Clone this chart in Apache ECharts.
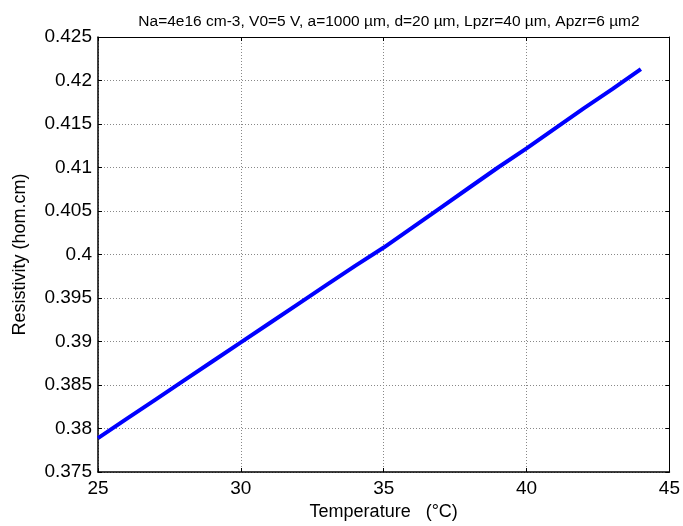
<!DOCTYPE html>
<html>
<head>
<meta charset="utf-8">
<script src="https://cdn.jsdelivr.net/npm/echarts@6/dist/echarts.min.js"></script>
<style>
  html, body { margin: 0; padding: 0; background: #fff; }
  #chart { width: 683px; height: 526px; }
</style>
</head>
<body>
<div id="chart"></div>
<script>
// temperature (°C) and resistivity
var temps = [25, 26, 27, 28, 29, 30, 31, 32, 33, 34, 35, 36, 37, 38, 39, 40, 41, 42, 43, 44];
var resistivity = [0.3789, 0.3811, 0.3833, 0.3855, 0.3877, 0.3899, 0.3921, 0.3943, 0.3965, 0.3987,
                   0.4008, 0.4031, 0.4054, 0.4077, 0.4100, 0.4122, 0.4145, 0.4168, 0.4190, 0.4213];
var titleText = 'Na=4e16 cm-3, V0=5 V, a=1000 µm, d=20 µm, Lpzr=40 µm, Apzr=6 µm2';

var font = 'Liberation Sans, Arial, sans-serif';
var data = temps.map(function (t, i) { return [t, resistivity[i]]; });

var gridLine = { show: true, lineStyle: { color: '#888', type: [1, 2], width: 1 } };
var tickIn = { show: true, inside: true, length: 4, lineStyle: { color: '#000' } };

var chart = echarts.init(document.getElementById('chart'));
chart.setOption({
    animation: false,
    title: {
        text: titleText,
        left: 384,
        textAlign: 'center',
        top: 9,
        textStyle: { fontFamily: font, fontSize: 15.5, fontWeight: 'normal', color: '#000' }
    },
    grid: { left: 98, right: 13, top: 37, bottom: 54, show: false },
    xAxis: [{
        type: 'value', min: 25, max: 45, interval: 5,
        name: 'Temperature   (°C)', nameLocation: 'middle', nameGap: 30,
        nameTextStyle: { fontFamily: font, fontSize: 18, color: '#000' },
        axisLine: { show: true, lineStyle: { color: '#000', width: 1.5 } },
        axisTick: tickIn,
        axisLabel: { fontFamily: font, fontSize: 19, color: '#000', margin: 7 },
        splitLine: gridLine
    }, {
        type: 'value', min: 25, max: 45, interval: 5, position: 'top',
        axisLine: { show: true, lineStyle: { color: '#000', width: 1 } },
        axisTick: tickIn, axisLabel: { show: false }, splitLine: { show: false }
    }],
    yAxis: [{
        type: 'value', min: 0.375, max: 0.425, interval: 0.005,
        name: 'Resistivity (hom.cm)', nameLocation: 'middle', nameGap: 69,
        nameTextStyle: { fontFamily: font, fontSize: 18, color: '#000' },
        axisLine: { show: true, lineStyle: { color: '#000', width: 1.5 } },
        axisTick: tickIn,
        axisLabel: {
            fontFamily: font, fontSize: 19, color: '#000', margin: 6,
            formatter: function (v) { return String(parseFloat(v.toFixed(3))); }
        },
        splitLine: gridLine
    }, {
        type: 'value', min: 0.375, max: 0.425, interval: 0.005, position: 'right',
        axisLine: { show: true, lineStyle: { color: '#000', width: 1 } },
        axisTick: tickIn, axisLabel: { show: false }, splitLine: { show: false }
    }],
    series: [{
        type: 'line',
        data: data,
        showSymbol: false,
        lineStyle: { color: '#0000ff', width: 4 },
        z: 5
    }]
});
</script>
</body>
</html>
